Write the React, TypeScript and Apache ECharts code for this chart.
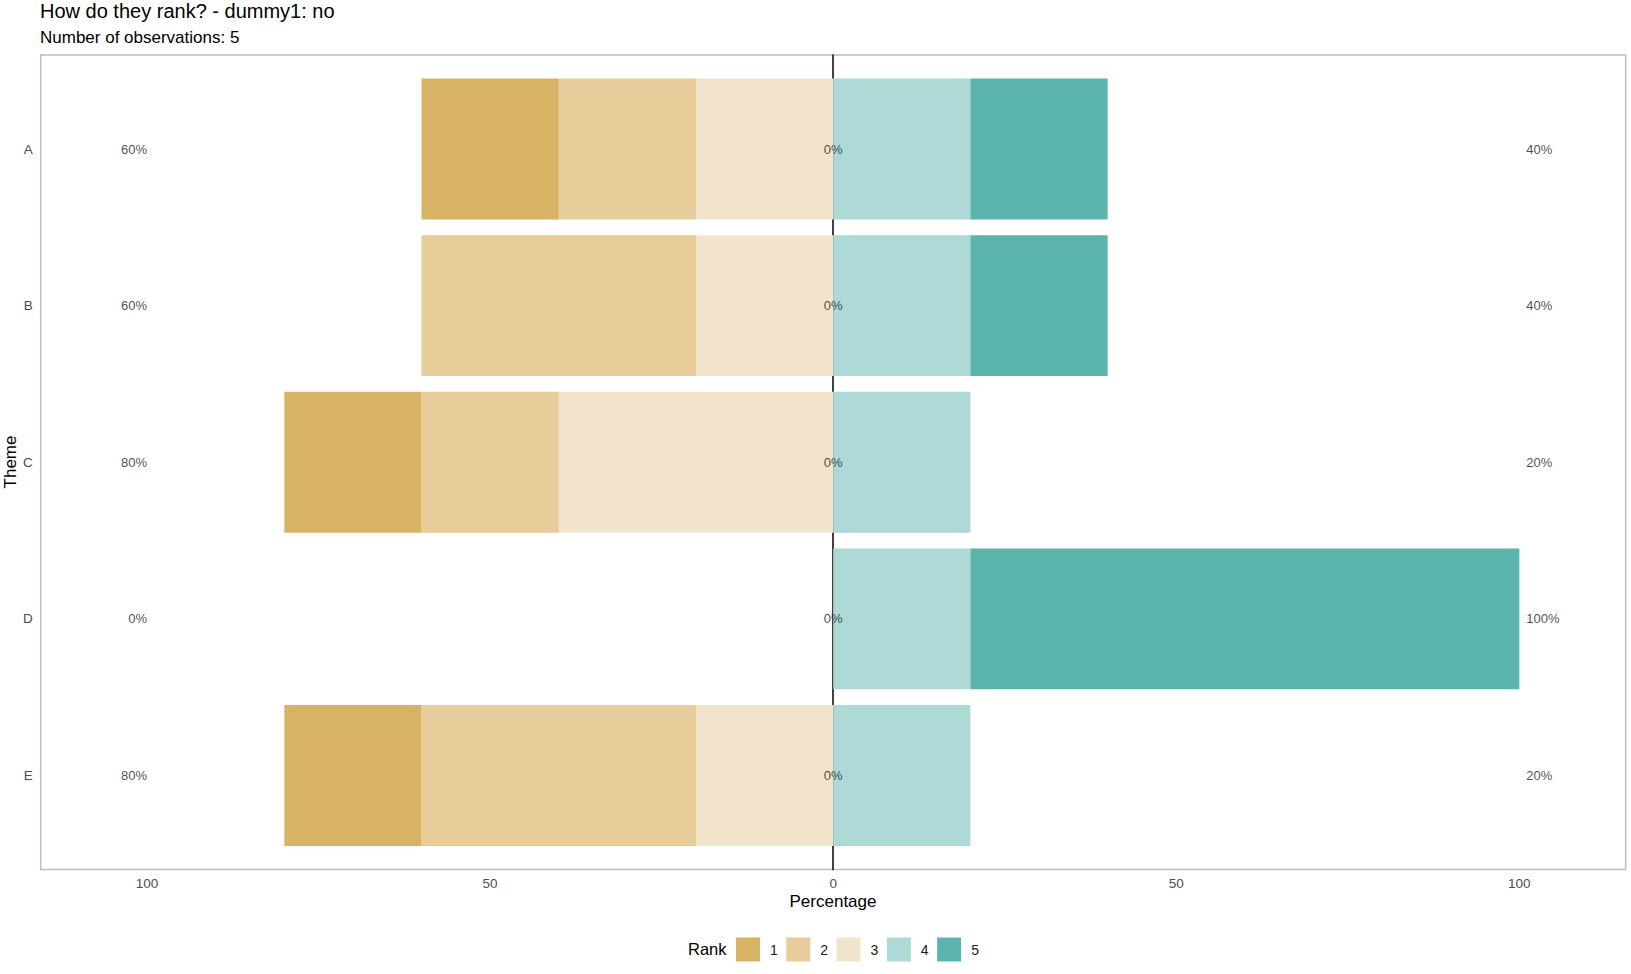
import React, { useEffect, useRef } from "react";
import * as echarts from "echarts";

const categories = ["A", "B", "C", "D", "E"];
const ranks = ["1", "2", "3", "4", "5"];
// shares (%) per rank; ranks 1-3 sit left of zero, 4-5 right of zero
const rank1 = [20, 0, 20, 0, 20];
const rank2 = [20, 40, 20, 0, 40];
const rank3 = [20, 20, 40, 0, 20];
const rank4 = [20, 20, 20, 20, 20];
const rank5 = [20, 20, 0, 80, 0];
const leftTotals = [60, 60, 80, 0, 80];
const rightTotals = [40, 40, 20, 100, 20];
const centerLabels = [0, 0, 0, 0, 0];
const xTicks = [-100, -50, 0, 50, 100];
const colors = ["#D8B365", "#E6CD99", "#F2E4CB", "#ADD9D6", "#5AB4AC"];

const FONT = "'Liberation Sans', Arial, sans-serif";

export default function App() {
  const ref = useRef<HTMLDivElement>(null);
  useEffect(() => {
    document.body.style.margin = "0";
    const chart = echarts.init(ref.current!, null, { renderer: "svg" });
    const neg = (a: number[]) => a.map((v) => -v);
    const barCommon = {
      type: "bar",
      xAxisIndex: 1,
      yAxisIndex: 1,
      stack: "total",
      barWidth: "90%",
      emphasis: { disabled: true },
    };
    const option: any = {
      animation: false,
      backgroundColor: "#ffffff",
      textStyle: { fontFamily: FONT },
      title: [
        {
          text: "How do they rank? - dummy1: no",
          left: 40,
          top: 1,
          padding: 0,
          textStyle: { fontFamily: FONT, fontSize: 20, fontWeight: "normal", color: "#000" },
        },
        {
          text: "Number of observations: 5",
          left: 40,
          top: 29,
          padding: 0,
          textStyle: { fontFamily: FONT, fontSize: 17, fontWeight: "normal", color: "#000" },
        },
      ],
      grid: [
        {
          left: 40.7,
          right: 5.3,
          top: 55,
          bottom: 104.5,
          show: true,
          borderColor: "#BEBEBE",
          borderWidth: 1.5,
          backgroundColor: "#ffffff",
        },
        { left: 40.7, right: 5.3, top: 70.7, bottom: 120.2 },
      ],
      xAxis: [
        {
          gridIndex: 0,
          type: "value",
          min: -115.5,
          max: 115.5,
          axisLine: { show: false },
          axisTick: { show: false },
          splitLine: { show: false },
          axisLabel: {
            customValues: xTicks,
            formatter: (v: number) => String(Math.abs(v)),
            color: "#4D4D4D",
            fontSize: 13.5,
            fontFamily: FONT,
            margin: 7,
          },
        },
        {
          gridIndex: 1,
          type: "value",
          min: -115.5,
          max: 115.5,
          show: false,
        },
      ],
      yAxis: [
        {
          gridIndex: 0,
          type: "value",
          min: 0,
          max: 1,
          axisLine: { show: true, onZero: true, lineStyle: { color: "#000", width: 1.5 } },
          axisTick: { show: false },
          axisLabel: { show: false },
          splitLine: { show: false },
        },
        {
          gridIndex: 1,
          type: "category",
          data: categories,
          inverse: true,
          axisLine: { show: false },
          axisTick: { show: false },
          splitLine: { show: false },
          axisLabel: { color: "#4D4D4D", fontSize: 13.5, fontFamily: FONT, margin: 8 },
        },
      ],
      legend: {
        data: ranks,
        left: 731,
        top: 932.5,
        orient: "horizontal",
        icon: "rect",
        itemWidth: 24,
        itemHeight: 24,
        itemGap: 8.5,
        selectedMode: false,
        textStyle: { fontFamily: FONT, fontSize: 14, color: "#1A1A1A", padding: [0, 0, 0, 5] },
      },
      graphic: [
        {
          type: "text",
          x: 688,
          y: 949,
          style: { text: "Rank", fontFamily: FONT, fontSize: 16.5, fill: "#000", verticalAlign: "middle", align: "left" },
        },
        {
          type: "text",
          x: 833,
          y: 901,
          style: { text: "Percentage", fontFamily: FONT, fontSize: 17, fill: "#000", verticalAlign: "middle", align: "center" },
        },
        {
          type: "text",
          x: 10.5,
          y: 462,
          rotation: Math.PI / 2,
          style: { text: "Theme", fontFamily: FONT, fontSize: 17, fill: "#000", verticalAlign: "middle", align: "center" },
        },
      ],
      series: [
        { type: "line", xAxisIndex: 0, yAxisIndex: 0, data: [], silent: true },
        { ...barCommon, name: "3", data: neg(rank3), itemStyle: { color: colors[2] } },
        { ...barCommon, name: "2", data: neg(rank2), itemStyle: { color: colors[1] } },
        { ...barCommon, name: "1", data: neg(rank1), itemStyle: { color: colors[0] } },
        { ...barCommon, name: "4", data: rank4, itemStyle: { color: colors[3] } },
        { ...barCommon, name: "5", data: rank5, itemStyle: { color: colors[4] } },
        {
          type: "scatter",
          xAxisIndex: 1,
          yAxisIndex: 1,
          symbolSize: 0,
          z: 5,
          silent: true,
          data: categories.map((c, i) => ({ value: [-100, c], label: { formatter: leftTotals[i] + "%" } })),
          label: { show: true, position: "left", distance: 0, color: "#1A1A1A", fontSize: 13, fontFamily: FONT },
        },
        {
          type: "scatter",
          xAxisIndex: 1,
          yAxisIndex: 1,
          symbolSize: 0,
          z: 5,
          silent: true,
          data: categories.map((c, i) => ({ value: [100, c], label: { formatter: rightTotals[i] + "%" } })),
          label: { show: true, position: "right", distance: 7, color: "#1A1A1A", fontSize: 13, fontFamily: FONT },
        },
        {
          type: "scatter",
          xAxisIndex: 1,
          yAxisIndex: 1,
          symbolSize: 0,
          z: 5,
          silent: true,
          data: categories.map((c, i) => ({ value: [0, c], label: { formatter: centerLabels[i] + "%" } })),
          label: { show: true, position: "inside", color: "#1A1A1A", fontSize: 13, fontFamily: FONT },
        },
      ],
    };
    chart.setOption(option);
    return () => chart.dispose();
  }, []);
  return <div ref={ref} style={{ width: 1631, height: 974 }} />;
}
